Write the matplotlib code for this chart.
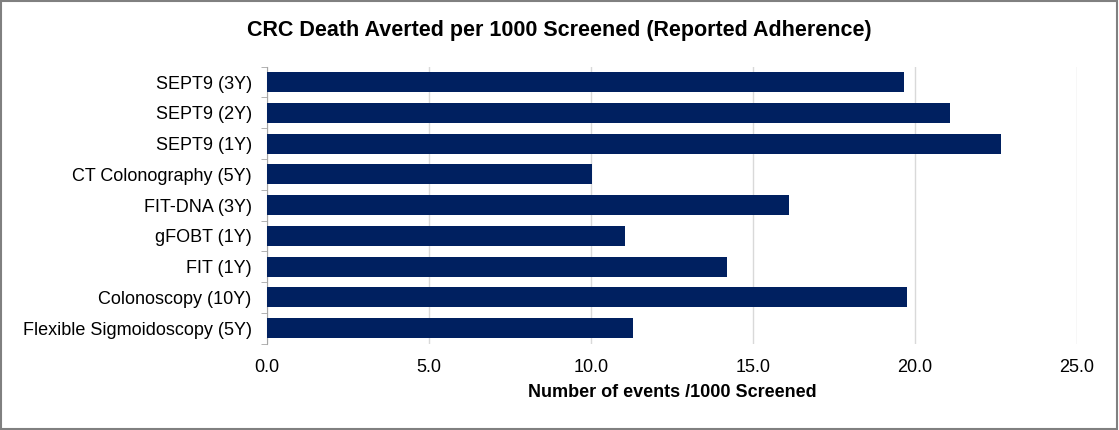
import matplotlib.pyplot as plt
import numpy as np

plt.rcParams['font.family'] = ['Liberation Sans', 'DejaVu Sans']

categories = ["SEPT9 (3Y)", "SEPT9 (2Y)", "SEPT9 (1Y)", "CT Colonography (5Y)",
              "FIT-DNA (3Y)", "gFOBT (1Y)", "FIT (1Y)", "Colonoscopy (10Y)",
              "Flexible Sigmoidoscopy (5Y)"]
values = [19.65, 21.08, 22.65, 10.04, 16.1, 11.06, 14.2, 19.75, 11.3]
xticks = [0, 5, 10, 15, 20, 25]

fig = plt.figure(figsize=(11.19, 4.30), dpi=100)
ax = fig.add_axes([0.2386, 0.2009, 0.7239, 0.6441])

y = np.arange(len(categories))
ax.barh(y, values, height=0.65, color="#002060", zorder=3)
ax.set_ylim(len(categories) - 0.5, -0.5)
ax.set_xlim(0, 25)
ax.set_xticks(xticks)
ax.set_xticklabels([f"{t:.1f}" for t in xticks], fontsize=13)
ax.set_yticks(y)
ax.set_yticklabels(categories, fontsize=13)
ax.set_yticks(np.arange(-0.5, len(categories), 1), minor=True)
ax.tick_params(axis="y", which="major", length=0, pad=11)
ax.tick_params(axis="y", which="minor", length=4, color="#A6A6A6")
ax.tick_params(axis="x", length=0, pad=11)
ax.grid(axis="x", color="#D9D9D9", linewidth=1, zorder=0)

for s in ["top", "right", "bottom"]:
    ax.spines[s].set_visible(False)
ax.spines["left"].set_color("#A6A6A6")

ax.set_xlabel("Number of events /1000 Screened", fontsize=13, fontweight="bold", labelpad=6)
fig.text(0.5, 0.928, "CRC Death Averted per 1000 Screened (Reported Adherence)",
         ha="center", va="center", fontsize=15.5, fontweight="bold")

fig.patches.append(plt.Rectangle((0.001, 0.002), 0.997, 0.996, transform=fig.transFigure,
                                 fill=False, edgecolor="#808080", linewidth=1.5))
fig.savefig("out.png", dpi=100)
